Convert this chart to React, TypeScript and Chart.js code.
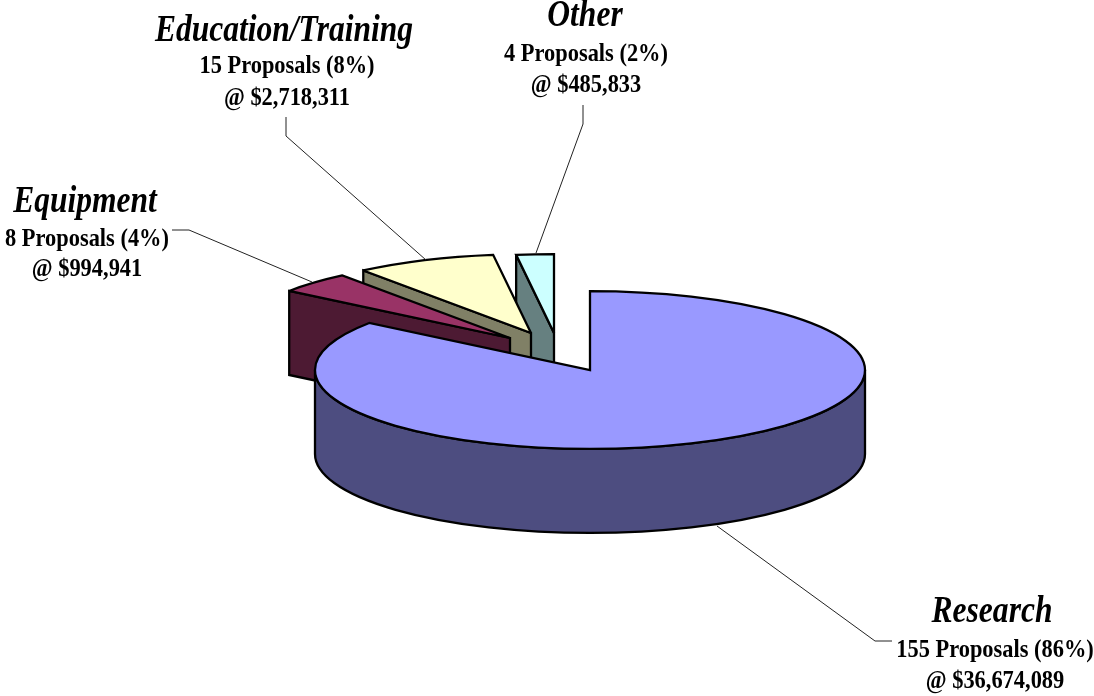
import React, { useEffect, useRef } from "react";
import { Chart, registerables } from "chart.js";

Chart.register(...registerables);

// Proposal portfolio, clockwise from twelve o'clock.
const categories = ["Research", "Equipment", "Education/Training", "Other"];
const proposals = [155, 8, 15, 4];
const percents = [86, 4, 8, 2];
const amounts = ["$36,674,089", "$994,941", "$2,718,311", "$485,833"];

// Slice appearance.
const topColors = ["#9999FF", "#993366", "#FFFFCC", "#CCFFFF"];
const wallColors = ["#4D4D80", "#4D1A33", "#808066", "#668080"];
const explodeX = [0, -80, -59, -36];
const explodeY = [0, -32, -37, -37];
const TILT = 0.287;
const DEPTH = 84;

// Label block per category: centre x of the name and of the detail lines,
// then the baseline of each of the three lines.
const titleX = [992, 85, 284, 585];
const detailX = [995, 87, 287, 586];
const labelY = [
  [622, 657, 688],
  [212, 246, 276],
  [41, 73, 105],
  [26, 61, 92],
];
// Leader polylines from label to slice.
const leaders = [
  [[892, 641], [875, 641], [717, 526]],
  [[172, 230], [189, 230], [312, 282]],
  [[286, 117], [286, 136], [426, 260]],
  [[583, 105], [583, 124], [536, 253]],
];

// The type is set large and narrowed horizontally.
const TITLE_FONT = 'italic bold 38px "Liberation Serif"';
const BODY_FONT = 'bold 26px "Liberation Serif"';
const TITLE_NARROW = 0.83;
const BODY_NARROW = 0.862;

const narrowText = (ctx: any, text: string, x: number, y: number, factor: number) => {
  ctx.fillText(text, x, y, ctx.measureText(text).width * factor);
};

const pie3d = {
  id: "pie3d",
  beforeDatasetDraw(chart: any) {
    const ctx = chart.ctx;
    const arcs = chart.getDatasetMeta(0).data;
    ctx.lineWidth = 2.3;
    ctx.strokeStyle = "#000";
    ctx.lineJoin = "miter";
    ctx.miterLimit = 2.5;
    // Back slices first so the large front slice overlaps them.
    for (let i = arcs.length - 1; i >= 0; i--) {
      const arc = arcs[i];
      const { x, y, outerRadius, startAngle, endAngle } = arc.getProps([
        "x", "y", "outerRadius", "startAngle", "endAngle",
      ]);
      const cx = x + explodeX[i];
      const cy = y + explodeY[i];
      const rx = outerRadius;
      const ry = outerRadius * TILT;
      ctx.fillStyle = wallColors[i];

      // Radial side walls that face the viewer.
      for (const a of [startAngle, endAngle]) {
        const facing = a === startAngle ? Math.cos(a) < -1e-6 : Math.cos(a) > 1e-6;
        if (!facing) continue;
        const px = cx + rx * Math.cos(a);
        const py = cy + ry * Math.sin(a);
        ctx.beginPath();
        ctx.moveTo(cx, cy);
        ctx.lineTo(px, py);
        ctx.lineTo(px, py + DEPTH);
        ctx.lineTo(cx, cy + DEPTH);
        ctx.closePath();
        ctx.fill();
        ctx.stroke();
      }

      // Curved rim on the near half of the ellipse.
      const a0 = Math.max(startAngle, 0);
      const a1 = Math.min(endAngle, Math.PI);
      if (a1 > a0) {
        ctx.beginPath();
        ctx.ellipse(cx, cy, rx, ry, 0, a0, a1);
        ctx.ellipse(cx, cy + DEPTH, rx, ry, 0, a1, a0, true);
        ctx.closePath();
        ctx.fill();
        ctx.stroke();
      }

      // Top face: the library's arc, flattened onto the tilted plane.
      ctx.save();
      ctx.translate(cx, cy);
      ctx.scale(1, TILT);
      ctx.translate(-x, -y);
      arc.draw(ctx);
      ctx.restore();

      ctx.beginPath();
      ctx.moveTo(cx, cy);
      ctx.ellipse(cx, cy, rx, ry, 0, startAngle, endAngle);
      ctx.closePath();
      ctx.stroke();
    }
    return false;
  },
  afterDraw(chart: any) {
    const ctx = chart.ctx;
    ctx.save();
    ctx.strokeStyle = "#222";
    ctx.lineWidth = 1;
    for (const line of leaders) {
      ctx.beginPath();
      line.forEach(([lx, ly], k) => (k ? ctx.lineTo(lx, ly) : ctx.moveTo(lx, ly)));
      ctx.stroke();
    }
    ctx.fillStyle = "#000";
    ctx.textAlign = "center";
    ctx.textBaseline = "alphabetic";
    categories.forEach((name, i) => {
      ctx.font = TITLE_FONT;
      narrowText(ctx, name, titleX[i], labelY[i][0], TITLE_NARROW);
      ctx.font = BODY_FONT;
      narrowText(ctx, `${proposals[i]} Proposals (${percents[i]}%)`, detailX[i], labelY[i][1], BODY_NARROW);
      narrowText(ctx, `@ ${amounts[i]}`, detailX[i], labelY[i][2], BODY_NARROW);
    });
    ctx.restore();
  },
};

export default function App() {
  const ref = useRef<HTMLCanvasElement>(null);
  useEffect(() => {
    const chart = new Chart(ref.current!, {
      type: "pie",
      data: {
        labels: categories,
        datasets: [
          {
            data: proposals,
            backgroundColor: topColors,
            borderWidth: 0,
            hoverOffset: 0,
            offset: 0,
          },
        ],
      },
      options: {
        animation: false,
        responsive: false,
        rotation: 0,
        // Centres the 275px-radius disc on (590, 370) inside the canvas.
        layout: { padding: { left: 315, right: 229, top: 95, bottom: 51 } },
        events: [],
        plugins: { legend: { display: false }, tooltip: { enabled: false } },
      },
      plugins: [pie3d],
    });
    return () => chart.destroy();
  }, []);
  return (
    <canvas
      ref={ref}
      width={1094}
      height={696}
      style={{ position: "absolute", left: 0, top: 0, width: 1094, height: 696 }}
    />
  );
}
